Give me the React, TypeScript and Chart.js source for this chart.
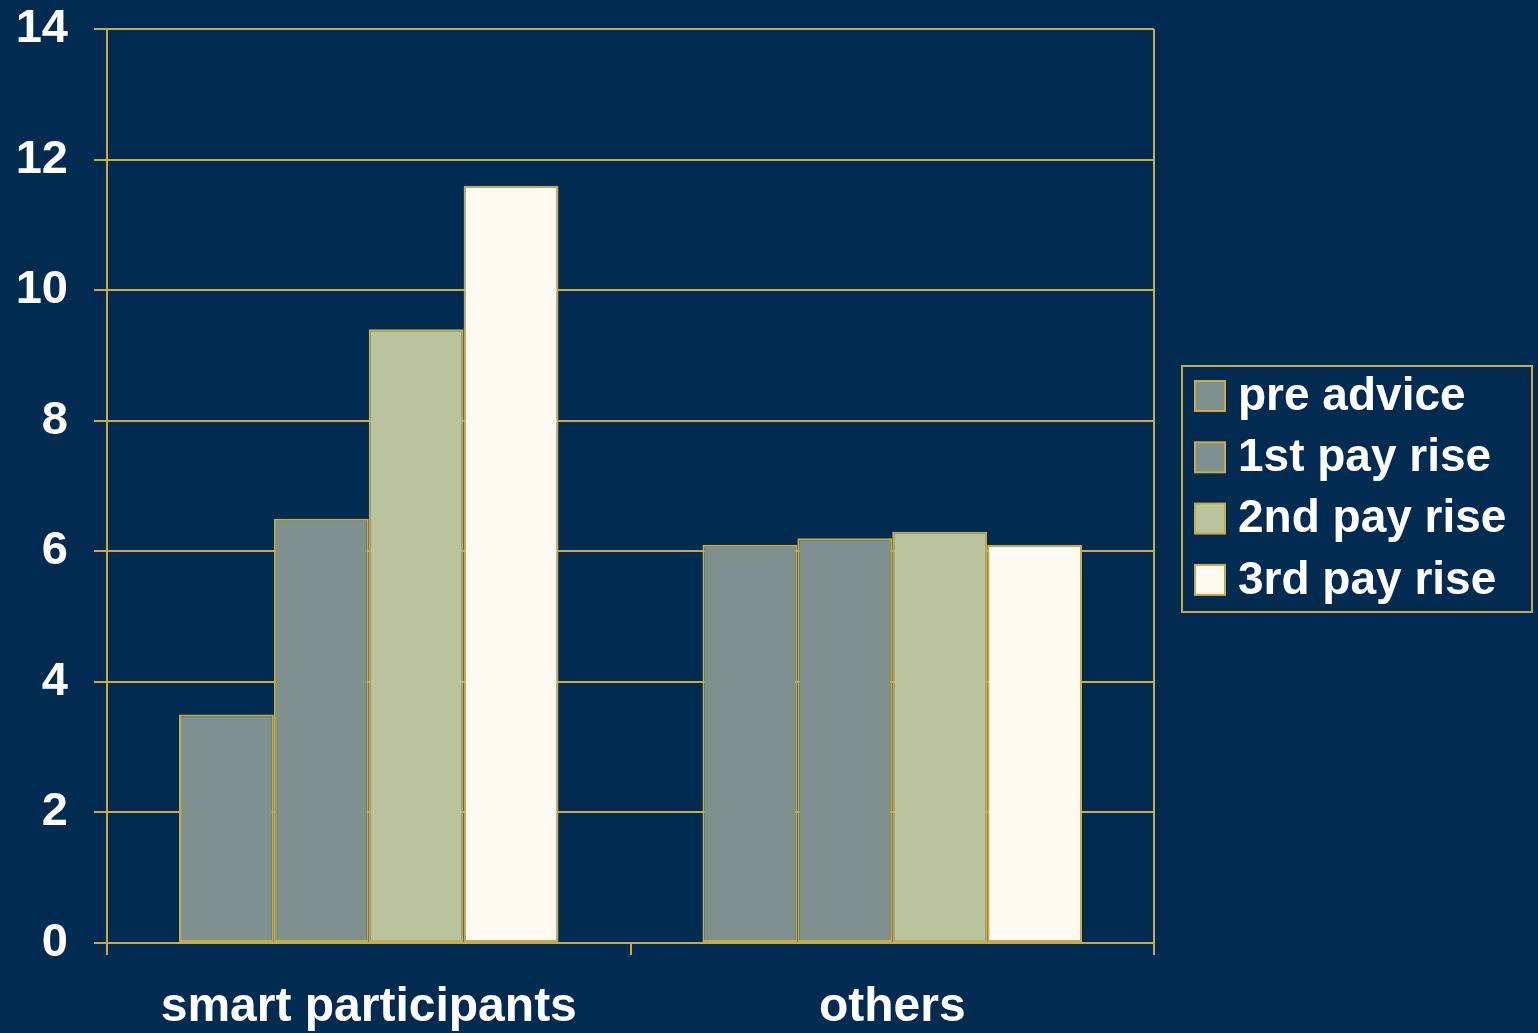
import React, { useEffect, useRef } from "react";
import { Chart, registerables } from "chart.js";

Chart.register(...registerables);

const categories = ["smart participants", "others"];
const seriesLabels = ["pre advice", "1st pay rise", "2nd pay rise", "3rd pay rise"];
const preAdvice = [3.5, 6.1];
const firstRise = [6.5, 6.2];
const secondRise = [9.4, 6.3];
const thirdRise = [11.6, 6.1];
const yTicks = [0, 2, 4, 6, 8, 10, 12, 14];

const BG = "#022b52";
const GOLD = "#cbab48";
const FILLS = ["#7e918e", "#7e918e", "#b9c49c", "#fdfaf2"];
const FONT = "'Liberation Sans', Arial, sans-serif";

const boxLegend = {
  id: "boxLegend",
  afterDraw(chart: any) {
    const { ctx, chartArea } = chart;
    const ds = chart.data.datasets;
    const rowH = 61.3;
    const boxH = 246;
    const left = chartArea.right + 28;
    const width = 350;
    const top = (chartArea.top + chartArea.bottom) / 2 - boxH / 2 + 3;
    ctx.save();
    ctx.strokeStyle = GOLD;
    ctx.lineWidth = 2;
    ctx.strokeRect(left, top, width, boxH);
    ctx.font = `bold 46px ${FONT}`;
    ctx.textBaseline = "middle";
    ctx.textAlign = "left";
    ds.forEach((d: any, i: number) => {
      const cy = top + 30 + i * rowH;
      ctx.fillStyle = d.backgroundColor;
      ctx.fillRect(left + 13, cy - 15, 30, 30);
      ctx.strokeStyle = GOLD;
      ctx.lineWidth = 2;
      ctx.strokeRect(left + 13, cy - 15, 30, 30);
      ctx.fillStyle = "#ffffff";
      ctx.fillText(d.label, left + 56, cy + 1);
    });
    ctx.restore();
  },
};

const plotBorder = {
  id: "plotBorder",
  afterDatasetsDraw(chart: any) {
    const { ctx, chartArea } = chart;
    ctx.save();
    ctx.strokeStyle = GOLD;
    ctx.lineWidth = 2;
    ctx.beginPath();
    ctx.moveTo(chartArea.right, chartArea.top);
    ctx.lineTo(chartArea.right, chartArea.bottom);
    ctx.stroke();
    ctx.restore();
  },
};

export default function App() {
  const ref = useRef<HTMLCanvasElement | null>(null);

  useEffect(() => {
    if (!ref.current) return;
    const series = [preAdvice, firstRise, secondRise, thirdRise];
    const chart = new Chart(ref.current, {
      type: "bar",
      data: {
        labels: categories,
        datasets: series.map((vals, i) => ({
          label: seriesLabels[i],
          data: vals,
          backgroundColor: FILLS[i],
          borderColor: GOLD,
          borderWidth: 2,
          borderSkipped: false,
          barPercentage: 1,
          categoryPercentage: 0.725,
        })),
      },
      options: {
        animation: false,
        responsive: true,
        maintainAspectRatio: false,
        layout: { padding: { top: 29, right: 384, left: 0, bottom: 0 } },
        plugins: {
          legend: { display: false },
          tooltip: { enabled: false },
        },
        scales: {
          x: {
            grid: {
              offset: true,
              color: (c: any) => (c.index === 1 ? "transparent" : GOLD),
              tickColor: GOLD,
              lineWidth: 2,
              tickLength: 12,
              drawOnChartArea: true,
            },
            border: { color: GOLD, width: 2 },
            ticks: {
              color: "#ffffff",
              font: { family: FONT, size: 48, weight: "bold" },
              padding: 24,
              maxRotation: 0,
            },
            afterFit: (s: any) => {
              s.height = 90;
              s.paddingLeft = 0;
              s.paddingRight = 0;
            },
          },
          y: {
            min: 0,
            max: 14,
            afterBuildTicks: (s: any) => {
              s.ticks = yTicks.map((v) => ({ value: v }));
            },
            grid: {
              color: GOLD,
              lineWidth: 2,
              tickLength: 13,
              tickColor: GOLD,
            },
            border: { color: GOLD, width: 2 },
            ticks: {
              color: "#ffffff",
              font: { family: FONT, size: 47, weight: "bold" },
              padding: 26,
            },
            afterFit: (s: any) => {
              s.width = 107;
              s.paddingTop = 0;
              s.paddingBottom = 0;
            },
          },
        },
      },
      plugins: [plotBorder, boxLegend],
    });
    return () => chart.destroy();
  }, []);

  return (
    <div
      style={{
        position: "fixed",
        left: 0,
        top: 0,
        width: 1538,
        height: 1033,
        background: BG,
      }}
    >
      <canvas ref={ref} />
    </div>
  );
}
